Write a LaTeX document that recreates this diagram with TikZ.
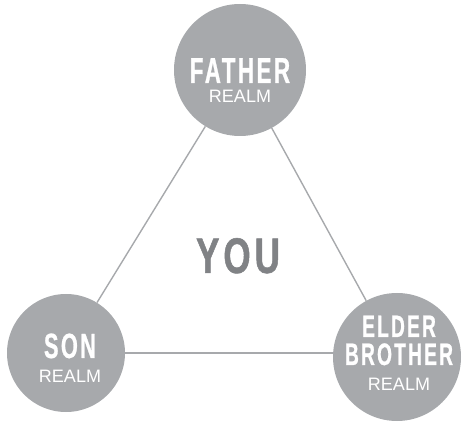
\documentclass[tikz,border=0pt]{standalone}
\usepackage{fontspec}
\setmainfont{Liberation Sans}
\newfontfamily\condfont{Liberation Sans}[FakeStretch=0.62,LetterSpace=7,FakeBold=0.8]
\newfontfamily\youfont{Liberation Sans}[FakeStretch=0.70,LetterSpace=8,FakeBold=1]
\usetikzlibrary{positioning}
\definecolor{realmgray}{HTML}{A7A9AC}
\definecolor{yougray}{HTML}{808285}

\begin{document}
\begin{tikzpicture}[
  x=1pt, y=1pt,
  realm/.style={circle, fill=realmgray, inner sep=0pt},
  link/.style={draw=realmgray, line width=1.4pt},
  realmname/.style={text=white, anchor=base, inner sep=0pt, font=\condfont\bfseries\fontsize{36}{36}\selectfont},
  realmsub/.style={text=white, anchor=base, inner sep=0pt, font=\fontsize{18}{18}\selectfont}
]
\useasboundingbox (0,0) rectangle (463,423);

\node[realm, minimum size=132] (father) at (240,353) {};
\node[realm, minimum size=118] (son) at (66,70) {};
\node[realm, minimum size=128] (elder) at (397,66) {};

\draw[link] (father) -- (son);
\draw[link] (father) -- (elder);
\draw[link] (son.east) -- (son.east -| elder.west);

\node[realmname] (fathername) at ([yshift=-13]father.center) {FATHER};
\node[realmsub] (fatherrealm) at ([yshift=-33]father.center) {REALM};

\node[realmname, font=\condfont\bfseries\fontsize{35}{35}\selectfont] (sonname) at ([xshift=4, yshift=-5]son.center) {SON};
\node[realmsub] (sonrealm) at ([xshift=4, yshift=-29]son.center) {REALM};

\node[realmname, font=\condfont\bfseries\fontsize{31}{31}\selectfont] (eldername) at ([xshift=2, yshift=20]elder.center) {ELDER};
\node[realmname, font=\condfont\bfseries\fontsize{31}{31}\selectfont] (brothername) at ([xshift=2, yshift=-8]elder.center) {BROTHER};
\node[realmsub] (elderrealm) at ([xshift=2, yshift=-33]elder.center) {REALM};

\node[anchor=base, inner sep=0pt, text=yougray, font=\youfont\bfseries\fontsize{50}{50}\selectfont] (you) at (238,150) {YOU};
\end{tikzpicture}
\end{document}
